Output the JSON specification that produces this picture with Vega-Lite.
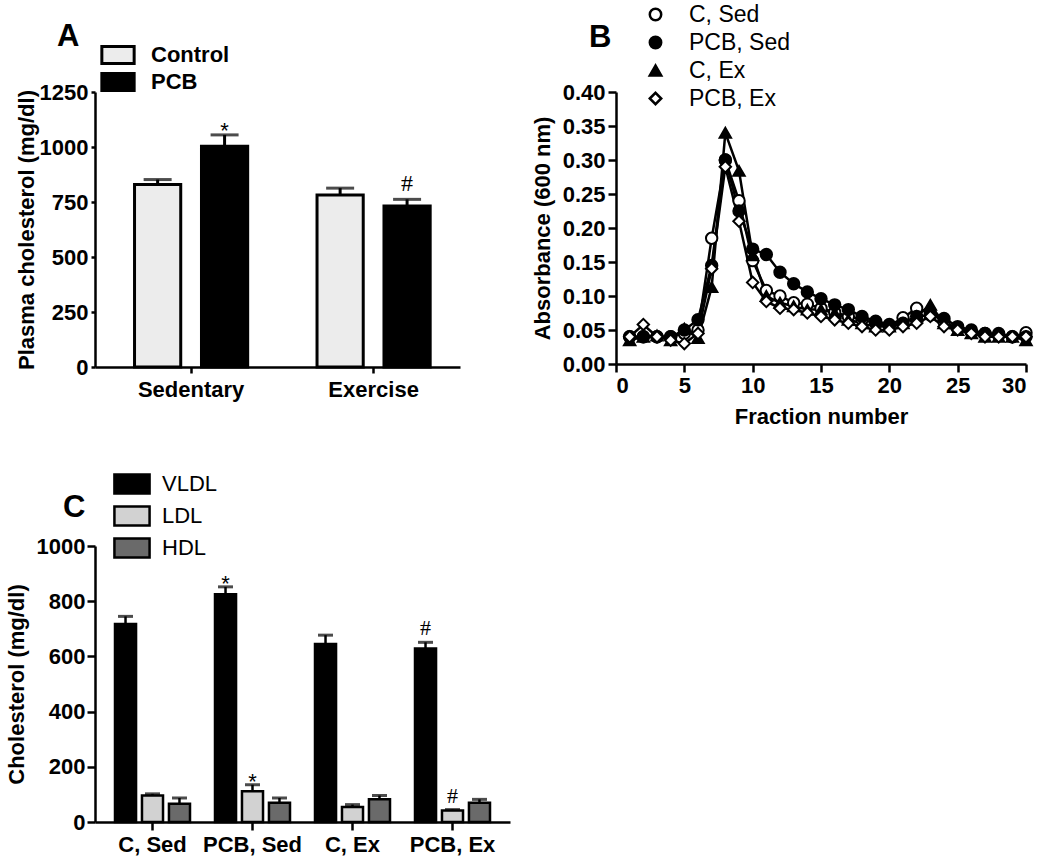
{
  "$schema": "https://vega.github.io/schema/vega-lite/v6.json",
  "background": "white",
  "padding": {"left": 5, "top": 3, "right": 5, "bottom": 5},
  "config": {
    "font": "Liberation Sans",
    "view": {"stroke": null},
    "axis": {
      "labelFont": "Liberation Sans", "labelFontSize": 22, "labelFontWeight": "bold", "labelColor": "black",
      "titleFont": "Liberation Sans", "titleFontSize": 22, "titleFontWeight": "bold", "titleColor": "black",
      "domainColor": "black", "domainWidth": 2.5, "tickColor": "black", "tickWidth": 2.5, "grid": false
    },
    "legend": {"labelFont": "Liberation Sans", "labelColor": "black"},
    "title": {"font": "Liberation Sans", "fontSize": 31, "fontWeight": "bold", "color": "black"}
  },
  "bounds": "flush",
  "align": "each",
  "columns": 2,
  "spacing": {"row": 179, "column": 106},
  "resolve": {"scale": {"x": "independent", "y": "independent", "xOffset": "independent", "fill": "independent", "shape": "independent", "color": "independent", "stroke": "independent"}},
  "concat": [
    {
      "width": 365, "height": 275,
      "title": {"text": "A", "anchor": "start", "frame": "group", "dx": -38, "dy": 9, "offset": 0},
      "data": {"values": [
        {"activity": "Sedentary", "group": "Control", "chol": 830, "upper": 852, "sig": ""},
        {"activity": "Sedentary", "group": "PCB", "chol": 1003, "upper": 1055, "sig": "*"},
        {"activity": "Exercise", "group": "Control", "chol": 782, "upper": 813, "sig": ""},
        {"activity": "Exercise", "group": "PCB", "chol": 732, "upper": 762, "sig": "#"}
      ]},
      "encoding": {
        "x": {"field": "activity", "type": "nominal", "sort": ["Sedentary", "Exercise"],
              "scale": {"domain": ["Sedentary", "Exercise"], "paddingInner": 0.38, "paddingOuter": 0.19, "align": 0.57},
              "axis": {"title": null, "labelAngle": 0, "tickSize": 6, "labelPadding": 6}},
        "xOffset": {"field": "group", "type": "nominal", "sort": ["Control", "PCB"], "scale": {"domain": ["Control", "PCB"], "paddingInner": 0.31}}
      },
      "layer": [
        {
          "mark": {"type": "bar", "stroke": "black", "strokeWidth": 3},
          "encoding": {
            "y": {"field": "chol", "type": "quantitative", "scale": {"domain": [0, 1250]},
                  "axis": {"values": [0, 250, 500, 750, 1000, 1250], "format": "d", "title": "Plasma cholesterol  (mg/dl)", "tickSize": 4, "labelPadding": 3, "titlePadding": 1}},
            "fill": {"field": "group", "type": "nominal", "scale": {"domain": ["Control", "PCB"], "range": ["#ececec", "black"]},
                     "legend": {"orient": "none", "legendX": 12, "legendY": -48, "title": null,
                                "symbolType": "M-1.9,-1H1.9V1H-1.9Z", "symbolSize": 289,
                                "symbolStrokeColor": "black", "symbolStrokeWidth": 3,
                                "labelFontSize": 22, "labelFontWeight": "bold", "labelOffset": 22, "rowPadding": -3}}
          }
        },
        {
          "mark": {"type": "rule", "color": "black", "strokeWidth": 3},
          "encoding": {
            "y": {"field": "chol", "type": "quantitative", "scale": {"domain": [0, 1250]},
                  "axis": {"values": [0, 250, 500, 750, 1000, 1250], "format": "d", "title": "Plasma cholesterol  (mg/dl)", "tickSize": 4, "labelPadding": 3, "titlePadding": 1}},
            "y2": {"field": "upper"}
          }
        },
        {
          "mark": {"type": "tick", "color": "black", "thickness": 3, "size": 28},
          "encoding": {
            "y": {"field": "upper", "type": "quantitative", "scale": {"domain": [0, 1250]},
                  "axis": {"values": [0, 250, 500, 750, 1000, 1250], "format": "d", "title": "Plasma cholesterol  (mg/dl)", "tickSize": 4, "labelPadding": 3, "titlePadding": 1}}
          }
        },
        {
          "transform": [{"filter": "datum.sig == '*'"}],
          "mark": {"type": "text", "font": "Liberation Sans", "fontSize": 22, "baseline": "alphabetic", "dy": 3, "color": "black"},
          "encoding": {
            "y": {"field": "upper", "type": "quantitative", "scale": {"domain": [0, 1250]},
                  "axis": {"values": [0, 250, 500, 750, 1000, 1250], "format": "d", "title": "Plasma cholesterol  (mg/dl)", "tickSize": 4, "labelPadding": 3, "titlePadding": 1}},
            "text": {"field": "sig"}
          }
        },
        {
          "transform": [{"filter": "datum.sig == '#'"}],
          "mark": {"type": "text", "font": "Liberation Serif", "fontSize": 24, "baseline": "alphabetic", "dy": -8, "color": "black"},
          "encoding": {
            "y": {"field": "upper", "type": "quantitative", "scale": {"domain": [0, 1250]},
                  "axis": {"values": [0, 250, 500, 750, 1000, 1250], "format": "d", "title": "Plasma cholesterol  (mg/dl)", "tickSize": 4, "labelPadding": 3, "titlePadding": 1}},
            "text": {"field": "sig"}
          }
        }
      ]
    },
    {
      "width": 410, "height": 272,
      "title": {"text": "B", "anchor": "start", "frame": "group", "dx": -27, "dy": 51, "offset": 0},
      "data": {"values": [
        {"f": 1, "s": "C, Sed", "a": 0.04}, {"f": 2, "s": "C, Sed", "a": 0.04}, {"f": 3, "s": "C, Sed", "a": 0.04}, {"f": 4, "s": "C, Sed", "a": 0.04}, {"f": 5, "s": "C, Sed", "a": 0.045},
        {"f": 6, "s": "C, Sed", "a": 0.05}, {"f": 7, "s": "C, Sed", "a": 0.185}, {"f": 8, "s": "C, Sed", "a": 0.30}, {"f": 9, "s": "C, Sed", "a": 0.24}, {"f": 10, "s": "C, Sed", "a": 0.152},
        {"f": 11, "s": "C, Sed", "a": 0.108}, {"f": 12, "s": "C, Sed", "a": 0.10}, {"f": 13, "s": "C, Sed", "a": 0.09}, {"f": 14, "s": "C, Sed", "a": 0.088}, {"f": 15, "s": "C, Sed", "a": 0.082},
        {"f": 16, "s": "C, Sed", "a": 0.076}, {"f": 17, "s": "C, Sed", "a": 0.07}, {"f": 18, "s": "C, Sed", "a": 0.065}, {"f": 19, "s": "C, Sed", "a": 0.06}, {"f": 20, "s": "C, Sed", "a": 0.056},
        {"f": 21, "s": "C, Sed", "a": 0.068}, {"f": 22, "s": "C, Sed", "a": 0.082}, {"f": 23, "s": "C, Sed", "a": 0.075}, {"f": 24, "s": "C, Sed", "a": 0.062}, {"f": 25, "s": "C, Sed", "a": 0.052},
        {"f": 26, "s": "C, Sed", "a": 0.047}, {"f": 27, "s": "C, Sed", "a": 0.045}, {"f": 28, "s": "C, Sed", "a": 0.042}, {"f": 29, "s": "C, Sed", "a": 0.04}, {"f": 30, "s": "C, Sed", "a": 0.046},
        {"f": 1, "s": "PCB, Sed", "a": 0.04}, {"f": 2, "s": "PCB, Sed", "a": 0.04}, {"f": 3, "s": "PCB, Sed", "a": 0.04}, {"f": 4, "s": "PCB, Sed", "a": 0.04}, {"f": 5, "s": "PCB, Sed", "a": 0.05},
        {"f": 6, "s": "PCB, Sed", "a": 0.065}, {"f": 7, "s": "PCB, Sed", "a": 0.145}, {"f": 8, "s": "PCB, Sed", "a": 0.30}, {"f": 9, "s": "PCB, Sed", "a": 0.225}, {"f": 10, "s": "PCB, Sed", "a": 0.169},
        {"f": 11, "s": "PCB, Sed", "a": 0.161}, {"f": 12, "s": "PCB, Sed", "a": 0.135}, {"f": 13, "s": "PCB, Sed", "a": 0.118}, {"f": 14, "s": "PCB, Sed", "a": 0.106}, {"f": 15, "s": "PCB, Sed", "a": 0.096},
        {"f": 16, "s": "PCB, Sed", "a": 0.087}, {"f": 17, "s": "PCB, Sed", "a": 0.08}, {"f": 18, "s": "PCB, Sed", "a": 0.07}, {"f": 19, "s": "PCB, Sed", "a": 0.063}, {"f": 20, "s": "PCB, Sed", "a": 0.058},
        {"f": 21, "s": "PCB, Sed", "a": 0.06}, {"f": 22, "s": "PCB, Sed", "a": 0.07}, {"f": 23, "s": "PCB, Sed", "a": 0.072}, {"f": 24, "s": "PCB, Sed", "a": 0.067}, {"f": 25, "s": "PCB, Sed", "a": 0.055},
        {"f": 26, "s": "PCB, Sed", "a": 0.05}, {"f": 27, "s": "PCB, Sed", "a": 0.045}, {"f": 28, "s": "PCB, Sed", "a": 0.045}, {"f": 29, "s": "PCB, Sed", "a": 0.04}, {"f": 30, "s": "PCB, Sed", "a": 0.04},
        {"f": 1, "s": "C, Ex", "a": 0.035}, {"f": 2, "s": "C, Ex", "a": 0.04}, {"f": 3, "s": "C, Ex", "a": 0.042}, {"f": 4, "s": "C, Ex", "a": 0.035}, {"f": 5, "s": "C, Ex", "a": 0.052},
        {"f": 6, "s": "C, Ex", "a": 0.038}, {"f": 7, "s": "C, Ex", "a": 0.113}, {"f": 8, "s": "C, Ex", "a": 0.34}, {"f": 9, "s": "C, Ex", "a": 0.284}, {"f": 10, "s": "C, Ex", "a": 0.16},
        {"f": 11, "s": "C, Ex", "a": 0.10}, {"f": 12, "s": "C, Ex", "a": 0.09}, {"f": 13, "s": "C, Ex", "a": 0.085}, {"f": 14, "s": "C, Ex", "a": 0.08}, {"f": 15, "s": "C, Ex", "a": 0.08},
        {"f": 16, "s": "C, Ex", "a": 0.075}, {"f": 17, "s": "C, Ex", "a": 0.065}, {"f": 18, "s": "C, Ex", "a": 0.06}, {"f": 19, "s": "C, Ex", "a": 0.055}, {"f": 20, "s": "C, Ex", "a": 0.055},
        {"f": 21, "s": "C, Ex", "a": 0.06}, {"f": 22, "s": "C, Ex", "a": 0.07}, {"f": 23, "s": "C, Ex", "a": 0.087}, {"f": 24, "s": "C, Ex", "a": 0.06}, {"f": 25, "s": "C, Ex", "a": 0.05},
        {"f": 26, "s": "C, Ex", "a": 0.045}, {"f": 27, "s": "C, Ex", "a": 0.04}, {"f": 28, "s": "C, Ex", "a": 0.04}, {"f": 29, "s": "C, Ex", "a": 0.04}, {"f": 30, "s": "C, Ex", "a": 0.035},
        {"f": 1, "s": "PCB, Ex", "a": 0.04}, {"f": 2, "s": "PCB, Ex", "a": 0.058}, {"f": 3, "s": "PCB, Ex", "a": 0.04}, {"f": 4, "s": "PCB, Ex", "a": 0.035}, {"f": 5, "s": "PCB, Ex", "a": 0.03},
        {"f": 6, "s": "PCB, Ex", "a": 0.045}, {"f": 7, "s": "PCB, Ex", "a": 0.14}, {"f": 8, "s": "PCB, Ex", "a": 0.29}, {"f": 9, "s": "PCB, Ex", "a": 0.21}, {"f": 10, "s": "PCB, Ex", "a": 0.12},
        {"f": 11, "s": "PCB, Ex", "a": 0.092}, {"f": 12, "s": "PCB, Ex", "a": 0.082}, {"f": 13, "s": "PCB, Ex", "a": 0.08}, {"f": 14, "s": "PCB, Ex", "a": 0.075}, {"f": 15, "s": "PCB, Ex", "a": 0.07},
        {"f": 16, "s": "PCB, Ex", "a": 0.065}, {"f": 17, "s": "PCB, Ex", "a": 0.06}, {"f": 18, "s": "PCB, Ex", "a": 0.055}, {"f": 19, "s": "PCB, Ex", "a": 0.05}, {"f": 20, "s": "PCB, Ex", "a": 0.05},
        {"f": 21, "s": "PCB, Ex", "a": 0.055}, {"f": 22, "s": "PCB, Ex", "a": 0.06}, {"f": 23, "s": "PCB, Ex", "a": 0.07}, {"f": 24, "s": "PCB, Ex", "a": 0.055}, {"f": 25, "s": "PCB, Ex", "a": 0.05},
        {"f": 26, "s": "PCB, Ex", "a": 0.045}, {"f": 27, "s": "PCB, Ex", "a": 0.04}, {"f": 28, "s": "PCB, Ex", "a": 0.04}, {"f": 29, "s": "PCB, Ex", "a": 0.04}, {"f": 30, "s": "PCB, Ex", "a": 0.04}
      ]},
      "encoding": {
        "x": {"field": "f", "type": "quantitative", "scale": {"domain": [0, 30], "nice": false},
              "axis": {"values": [0, 5, 10, 15, 20, 25, 30], "title": "Fraction number", "tickSize": 8, "labelPadding": 3, "titlePadding": 10}},
        "y": {"field": "a", "type": "quantitative", "scale": {"domain": [0, 0.4], "nice": false},
              "axis": {"values": [0, 0.05, 0.1, 0.15, 0.2, 0.25, 0.3, 0.35, 0.4], "format": ".2f", "title": "Absorbance  (600 nm)", "tickSize": 8, "labelPadding": 3, "titlePadding": 8}}
      },
      "layer": [
        {
          "mark": {"type": "line", "color": "black", "strokeWidth": 2.5},
          "encoding": {"detail": {"field": "s", "type": "nominal"}}
        },
        {
          "mark": {"type": "point", "filled": true, "strokeWidth": 2, "size": 130, "opacity": 1},
          "encoding": {
            "shape": {"field": "s", "type": "nominal", "scale": {"domain": ["C, Sed", "PCB, Sed", "C, Ex", "PCB, Ex"], "range": ["circle", "circle", "triangle-up", "diamond"]},
                      "legend": {"orient": "none", "legendX": 28, "legendY": -89, "title": null, "labelFontSize": 23, "labelFontWeight": "normal",
                                 "symbolStrokeWidth": 2.5, "symbolSize": 130, "labelOffset": 22, "rowPadding": 4}},
            "fill": {"field": "s", "type": "nominal", "scale": {"domain": ["C, Sed", "PCB, Sed", "C, Ex", "PCB, Ex"], "range": ["white", "black", "black", "white"]},
                     "legend": {"orient": "none", "legendX": 28, "legendY": -89, "title": null, "labelFontSize": 23, "labelFontWeight": "normal",
                                "symbolStrokeWidth": 2.5, "symbolSize": 130, "labelOffset": 22, "rowPadding": 4}},
            "stroke": {"field": "s", "type": "nominal", "scale": {"domain": ["C, Sed", "PCB, Sed", "C, Ex", "PCB, Ex"], "range": ["black", "black", "black", "black"]},
                       "legend": {"orient": "none", "legendX": 28, "legendY": -89, "title": null, "labelFontSize": 23, "labelFontWeight": "normal",
                                  "symbolStrokeWidth": 2.5, "symbolSize": 130, "labelOffset": 22, "rowPadding": 4}}
          }
        }
      ]
    },
    {
      "width": 415, "height": 276,
      "title": {"text": "C", "anchor": "start", "frame": "group", "dx": -32, "dy": 51, "offset": 0},
      "data": {"values": [
        {"grp": "C, Sed", "lipo": "VLDL", "val": 717, "upper": 745, "sig": ""},
        {"grp": "C, Sed", "lipo": "LDL", "val": 96, "upper": 102, "sig": ""},
        {"grp": "C, Sed", "lipo": "HDL", "val": 66, "upper": 87, "sig": ""},
        {"grp": "PCB, Sed", "lipo": "VLDL", "val": 825, "upper": 852, "sig": "*"},
        {"grp": "PCB, Sed", "lipo": "LDL", "val": 111, "upper": 135, "sig": "*"},
        {"grp": "PCB, Sed", "lipo": "HDL", "val": 70, "upper": 87, "sig": ""},
        {"grp": "C, Ex", "lipo": "VLDL", "val": 645, "upper": 677, "sig": ""},
        {"grp": "C, Ex", "lipo": "LDL", "val": 54, "upper": 63, "sig": ""},
        {"grp": "C, Ex", "lipo": "HDL", "val": 82, "upper": 96, "sig": ""},
        {"grp": "PCB, Ex", "lipo": "VLDL", "val": 629, "upper": 651, "sig": "#"},
        {"grp": "PCB, Ex", "lipo": "LDL", "val": 42, "upper": 45, "sig": "#"},
        {"grp": "PCB, Ex", "lipo": "HDL", "val": 70, "upper": 82, "sig": ""}
      ]},
      "encoding": {
        "x": {"field": "grp", "type": "nominal", "sort": ["C, Sed", "PCB, Sed", "C, Ex", "PCB, Ex"],
              "scale": {"domain": ["C, Sed", "PCB, Sed", "C, Ex", "PCB, Ex"], "paddingInner": 0.25, "paddingOuter": 0.2},
              "axis": {"title": null, "labelAngle": 0, "tickSize": 8, "labelPadding": 4}},
        "xOffset": {"field": "lipo", "type": "nominal", "sort": ["VLDL", "LDL", "HDL"], "scale": {"domain": ["VLDL", "LDL", "HDL"], "paddingInner": 0.22}}
      },
      "layer": [
        {
          "mark": {"type": "bar", "stroke": "black", "strokeWidth": 2.5},
          "encoding": {
            "y": {"field": "val", "type": "quantitative", "scale": {"domain": [0, 1000]},
                  "axis": {"values": [0, 200, 400, 600, 800, 1000], "format": "d", "title": "Cholesterol (mg/dl)", "tickSize": 8, "labelPadding": 2, "titlePadding": 8}},
            "fill": {"field": "lipo", "type": "nominal", "scale": {"domain": ["VLDL", "LDL", "HDL"], "range": ["black", "#d2d2d2", "#6a6a6a"]},
                     "legend": {"orient": "none", "legendX": 26, "legendY": -73, "title": null,
                                "symbolType": "M-1.85,-1H1.85V1H-1.85Z", "symbolSize": 361,
                                "symbolStrokeColor": "black", "symbolStrokeWidth": 2.5,
                                "labelFontSize": 22, "labelFontWeight": "normal", "labelOffset": 19, "rowPadding": 2}}
          }
        },
        {
          "mark": {"type": "rule", "color": "black", "strokeWidth": 2.5},
          "encoding": {
            "y": {"field": "val", "type": "quantitative", "scale": {"domain": [0, 1000]},
                  "axis": {"values": [0, 200, 400, 600, 800, 1000], "format": "d", "title": "Cholesterol (mg/dl)", "tickSize": 8, "labelPadding": 2, "titlePadding": 8}},
            "y2": {"field": "upper"}
          }
        },
        {
          "mark": {"type": "tick", "color": "black", "thickness": 3, "size": 15},
          "encoding": {
            "y": {"field": "upper", "type": "quantitative", "scale": {"domain": [0, 1000]},
                  "axis": {"values": [0, 200, 400, 600, 800, 1000], "format": "d", "title": "Cholesterol (mg/dl)", "tickSize": 8, "labelPadding": 2, "titlePadding": 8}}
          }
        },
        {
          "transform": [{"filter": "datum.sig == '*'"}],
          "mark": {"type": "text", "font": "Liberation Sans", "fontSize": 22, "baseline": "alphabetic", "dy": 4, "color": "black"},
          "encoding": {
            "y": {"field": "upper", "type": "quantitative", "scale": {"domain": [0, 1000]},
                  "axis": {"values": [0, 200, 400, 600, 800, 1000], "format": "d", "title": "Cholesterol (mg/dl)", "tickSize": 8, "labelPadding": 2, "titlePadding": 8}},
            "text": {"field": "sig"}
          }
        },
        {
          "transform": [{"filter": "datum.sig == '#'"}],
          "mark": {"type": "text", "font": "Liberation Serif", "fontSize": 22, "baseline": "alphabetic", "dy": -7, "color": "black"},
          "encoding": {
            "y": {"field": "upper", "type": "quantitative", "scale": {"domain": [0, 1000]},
                  "axis": {"values": [0, 200, 400, 600, 800, 1000], "format": "d", "title": "Cholesterol (mg/dl)", "tickSize": 8, "labelPadding": 2, "titlePadding": 8}},
            "text": {"field": "sig"}
          }
        }
      ]
    }
  ]
}
